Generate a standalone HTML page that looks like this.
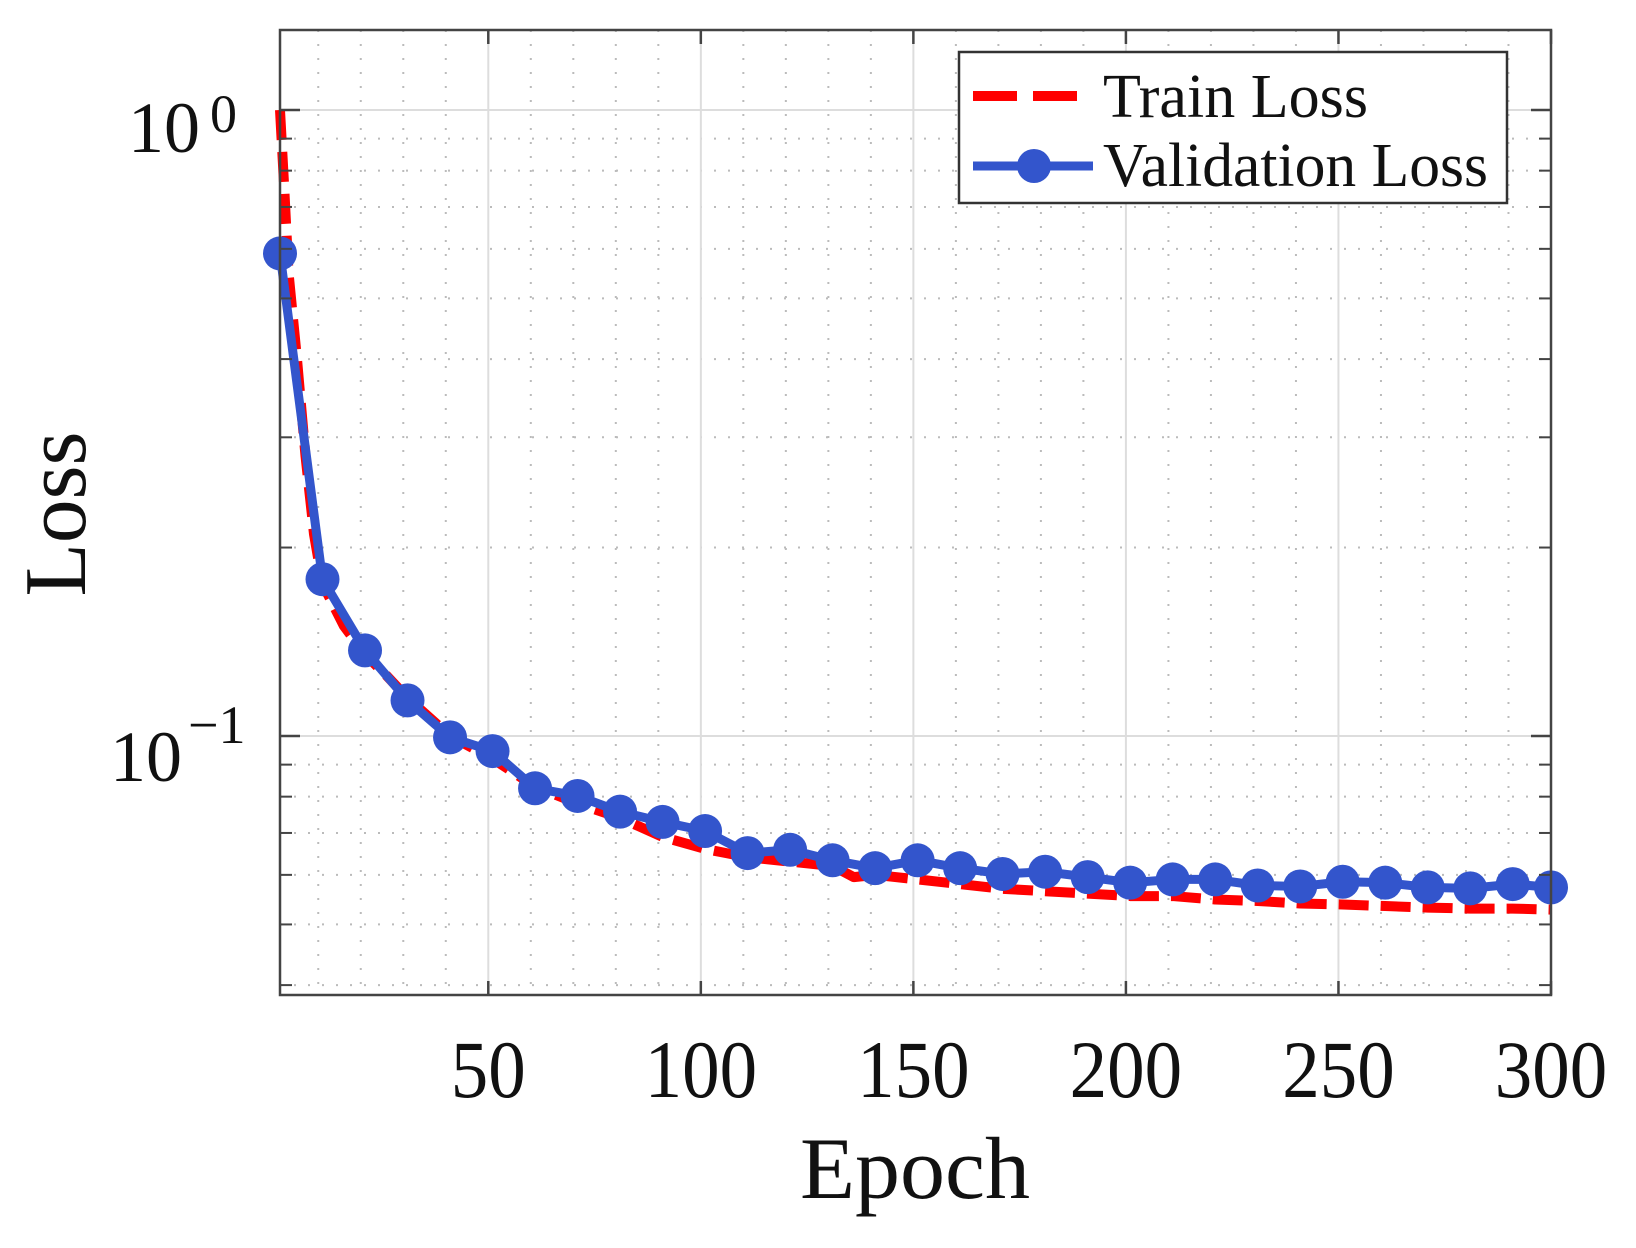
<!DOCTYPE html>
<html><head><meta charset="utf-8"><style>
html,body{margin:0;padding:0;background:#fff;}
svg text{font-family:"Liberation Serif","DejaVu Serif",serif;fill:#111;}
</style></head><body>
<svg id="chart" width="1636" height="1243" viewBox="0 0 1636 1243" xmlns="http://www.w3.org/2000/svg">
<rect x="0" y="0" width="1636" height="1243" fill="#fff"/>
<g id="grid"></g>
<g id="series"></g>
<rect x="280" y="30" width="1271" height="965" fill="none" stroke="#444" stroke-width="2.5"/>
<g id="ticks"></g>
<g>
<text x="200" y="152" font-size="72" text-anchor="end">10</text>
<text x="210" y="132" font-size="54">0</text>
<text x="182" y="781" font-size="72" text-anchor="end">10</text>
<text x="188" y="743" font-size="54">−1</text>
</g>
<g id="xlabels"></g>
<text x="915" y="1198" font-size="88" text-anchor="middle" textLength="230" lengthAdjust="spacingAndGlyphs">Epoch</text>
<text transform="translate(85,514) rotate(-90)" font-size="88" text-anchor="middle" textLength="165" lengthAdjust="spacingAndGlyphs">Loss</text>
<g>
<rect x="959" y="52" width="548" height="151" fill="#fff" stroke="#333" stroke-width="2.5"/>
<line x1="973" y1="96" x2="1093" y2="96" stroke="#ff0000" stroke-width="10" stroke-dasharray="44,16"/>
<text x="1103" y="117" font-size="62" textLength="265" lengthAdjust="spacingAndGlyphs">Train Loss</text>
<line x1="973" y1="166" x2="1093" y2="166" stroke="#3355cc" stroke-width="9"/>
<circle cx="1034" cy="166" r="17" fill="#3355cc"/>
<text x="1103" y="186" font-size="62" textLength="385" lengthAdjust="spacingAndGlyphs">Validation Loss</text>
</g>
</svg>
<script>
const trainEpochs=[1,2,3,5,7,9,11,16,21,26,31,41,51,61,71,81,91,101,106,111,121,131,136,141,151,161,171,181,191,201,211,221,231,241,251,261,271,281,291,300];
const trainLoss=[1.0,0.75,0.55,0.4,0.28,0.21,0.175,0.15,0.135,0.125,0.115,0.1,0.092,0.083,0.078,0.074,0.069,0.066,0.065,0.064,0.063,0.062,0.0595,0.060,0.059,0.058,0.057,0.0565,0.056,0.0555,0.0555,0.0548,0.0545,0.054,0.0538,0.0535,0.0532,0.053,0.053,0.0528];
const valEpochs=[1,11,21,31,41,51,61,71,81,91,101,111,121,131,141,151,161,171,181,191,201,211,221,231,241,251,261,271,281,291,300];
const valLoss=[0.59,0.178,0.137,0.114,0.0995,0.0946,0.0825,0.0802,0.0757,0.0729,0.0705,0.065,0.0658,0.0633,0.0615,0.0633,0.0615,0.0602,0.0607,0.0595,0.0583,0.059,0.059,0.0577,0.0575,0.0585,0.0583,0.0573,0.0571,0.058,0.0573];
const xTicks=[50,100,150,200,250,300];
const xTickLabels=["50","100","150","200","250","300"];
const X0=280,X1=1551,Y0=30,Y1=995,XMIN=1,XMAX=300,LMIN=Math.log10(0.03857),LMAX=Math.log10(1.342);
const NS="http://www.w3.org/2000/svg";
function xs(e){return X0+(e-XMIN)/(XMAX-XMIN)*(X1-X0);}
function ys(v){return Y1-(Math.log10(v)-LMIN)/(LMAX-LMIN)*(Y1-Y0);}
function mk(tag,attrs,parent){const el=document.createElementNS(NS,tag);for(const k in attrs)el.setAttribute(k,attrs[k]);parent.appendChild(el);return el;}
const grid=document.getElementById('grid'),ticks=document.getElementById('ticks'),series=document.getElementById('series'),xl=document.getElementById('xlabels');
// minor vertical grid every 10
for(let e=10;e<300;e+=10){if(e%50===0)continue;const l=mk('line',{x1:xs(e),x2:xs(e),y1:Y0,y2:Y1,stroke:'#bbb','stroke-width':2,'stroke-dasharray':'2,12'},grid);

}
// minor horizontal grid
[0.04,0.05,0.06,0.07,0.08,0.09,0.2,0.3,0.4,0.5,0.6,0.7,0.8,0.9].forEach(v=>{const l=mk('line',{x1:X0,x2:X1,y1:ys(v),y2:ys(v),stroke:'#bbb','stroke-width':2,'stroke-dasharray':'2,12'},grid);


[[X0,X0+12],[X1-12,X1]].forEach(p=>{const t=mk('line',{x1:p[0],x2:p[1],y1:ys(v),y2:ys(v),stroke:'#444','stroke-width':2},ticks);

});});
[1,0.1].forEach(v=>{const l=mk('line',{x1:X0,x2:X1,y1:ys(v),y2:ys(v),stroke:'#ddd','stroke-width':2},grid);


[[X0,X0+20],[X1-20,X1]].forEach(p=>{const t=mk('line',{x1:p[0],x2:p[1],y1:ys(v),y2:ys(v),stroke:'#444','stroke-width':2.5},ticks);

});});
xTicks.forEach((e,i)=>{const l=mk('line',{x1:xs(e),x2:xs(e),y1:Y0,y2:Y1,stroke:'#ddd','stroke-width':2},grid);


[[Y0,Y0+14],[Y1-14,Y1]].forEach(p=>{const t=mk('line',{x1:xs(e),x2:xs(e),y1:p[0],y2:p[1],stroke:'#444','stroke-width':2.5},ticks);

});
const tx=mk('text',{x:xs(e),y:1097,'font-size':82,'text-anchor':'middle',textLength:xTickLabels[i].length*37.5,lengthAdjust:'spacingAndGlyphs'},xl);
tx.textContent=xTickLabels[i];

});
const tp=mk('polyline',{points:trainEpochs.map((e,i)=>xs(e)+','+ys(trainLoss[i])).join(' '),fill:'none',stroke:'#ff0000','stroke-width':10,'stroke-dasharray':'30,12','stroke-linejoin':'round'},series);


const vp=mk('polyline',{points:valEpochs.map((e,i)=>xs(e)+','+ys(valLoss[i])).join(' '),fill:'none',stroke:'#3355cc','stroke-width':9,'stroke-linejoin':'round'},series);


valEpochs.forEach((e,i)=>{const c=mk('circle',{cx:xs(e),cy:ys(valLoss[i]),r:17,fill:'#3355cc'},series);

});
</script>
</body></html>
